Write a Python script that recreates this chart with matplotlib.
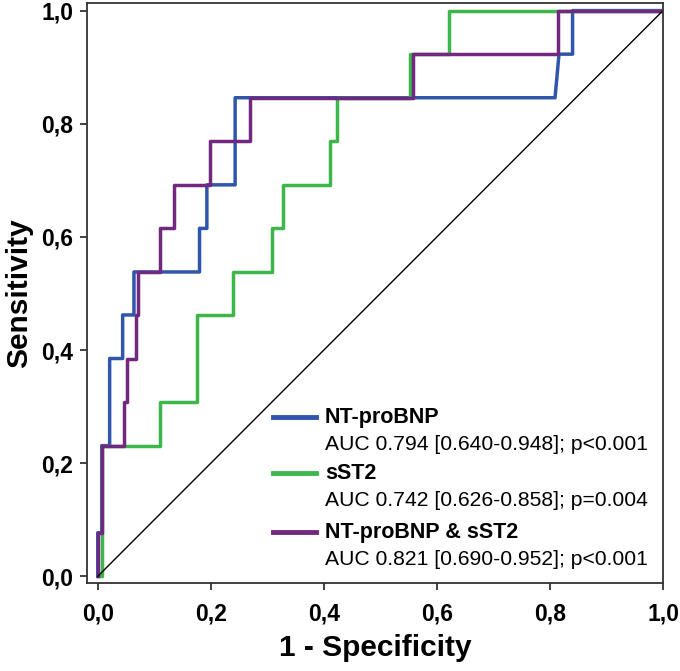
import matplotlib.pyplot as plt

plt.rcParams['font.family'] = ['Liberation Sans', 'DejaVu Sans']

# ROC curve vertices (1 - specificity, sensitivity)
bnp_fpr = [0, 0, 0.007, 0.007, 0.021, 0.021, 0.044, 0.044, 0.064, 0.064, 0.180, 0.180,
           0.193, 0.193, 0.243, 0.243, 0.809, 0.816, 0.840, 0.840, 1.0]
bnp_tpr = [0, 0.077, 0.077, 0.231, 0.231, 0.385, 0.385, 0.462, 0.462, 0.538, 0.538, 0.615,
           0.615, 0.692, 0.692, 0.846, 0.846, 0.923, 0.923, 1.0, 1.0]

st2_fpr = [0, 0.007, 0.007, 0.110, 0.110, 0.175, 0.175, 0.239, 0.239, 0.308, 0.308, 0.327,
           0.327, 0.411, 0.411, 0.423, 0.423, 0.552, 0.552, 0.621, 0.621, 1.0]
st2_tpr = [0, 0, 0.231, 0.231, 0.308, 0.308, 0.462, 0.462, 0.538, 0.538, 0.615, 0.615,
           0.692, 0.692, 0.769, 0.769, 0.846, 0.846, 0.923, 0.923, 1.0, 1.0]

comb_fpr = [0, 0, 0.007, 0.007, 0.046, 0.046, 0.052, 0.052, 0.067, 0.067, 0.071, 0.071,
            0.110, 0.110, 0.135, 0.135, 0.198, 0.198, 0.269, 0.269, 0.558, 0.558,
            0.814, 0.814, 1.0]
comb_tpr = [0, 0.077, 0.077, 0.231, 0.231, 0.308, 0.308, 0.385, 0.385, 0.462, 0.462, 0.538,
            0.538, 0.615, 0.615, 0.692, 0.692, 0.769, 0.769, 0.846, 0.846, 0.923,
            0.923, 1.0, 1.0]

names = ["NT-proBNP", "sST2", "NT-proBNP & sST2"]
auc_text = ["AUC 0.794 [0.640-0.948]; p<0.001",
            "AUC 0.742 [0.626-0.858]; p=0.004",
            "AUC 0.821 [0.690-0.952]; p<0.001"]
colors = ["#2f55ad", "#3db64b", "#72287f"]

fig = plt.figure(figsize=[6.8, 6.71], dpi=100)
ax = fig.add_axes([0.128, 0.131, 0.847, 0.865])

ax.plot(bnp_fpr, bnp_tpr, color=colors[0], lw=2.5)
ax.plot(st2_fpr, st2_tpr, color=colors[1], lw=2.5)
ax.plot(comb_fpr, comb_tpr, color=colors[2], lw=2.5)
ax.plot([0, 1], [0, 1], color="black", lw=1.0)

# legend drawn by hand
leg_y = [0.281, 0.182, 0.078]
for i in range(3):
    y = leg_y[i]
    ax.plot([0.31, 0.386], [y, y], color=colors[i], lw=3.5)
    ax.text(0.402, y, names[i], fontsize=15.5, fontweight="bold", va="center", ha="left")
    ax.text(0.402, y - 0.048, auc_text[i], fontsize=15.2, va="center", ha="left")

ax.set_xlim(-0.019, 1.0)
ax.set_ylim(-0.012, 1.014)
ticks = [0, 0.2, 0.4, 0.6, 0.8, 1.0]
tick_labels = ["0,0", "0,2", "0,4", "0,6", "0,8", "1,0"]
ax.set_xticks(ticks)
ax.set_xticklabels(tick_labels, fontsize=16.5, fontweight="bold")
ax.set_yticks(ticks)
ax.set_yticklabels(tick_labels, fontsize=16.5, fontweight="bold")
ax.tick_params(direction="out", length=5, width=1.3, color="#333333")
ax.tick_params(axis="x", pad=9)
ax.tick_params(axis="y", pad=5)
for s in ax.spines.values():
    s.set_linewidth(1.3)
    s.set_color("#333333")

ax.set_xlabel("1 - Specificity", fontsize=21.5, fontweight="bold", labelpad=6)
ax.set_ylabel("Sensitivity", fontsize=21.5, fontweight="bold", labelpad=6)

fig.savefig("out.png", dpi=100)
